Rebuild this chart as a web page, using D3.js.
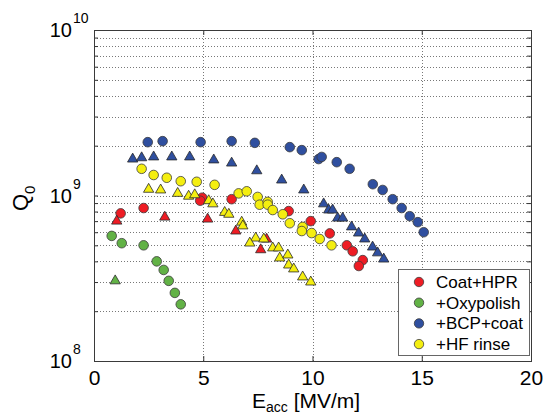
<!DOCTYPE html>
<html>
<head>
<meta charset="utf-8">
<script src="https://cdn.jsdelivr.net/npm/d3@7"></script>
<style>
body { margin: 0; background: #fff; }
svg { display: block; font-family: "Liberation Sans", Arial, sans-serif; }
</style>
</head>
<body>
<svg class="q-chart"></svg>
<script>
// [Eacc MV/m, Q0]
var coatHprCircles = [[1.22,7.8e8],[2.27,8.4e8],[4.95,9.7e8],[4.86,9.3e8],[6.30,9.5e8],[8.91,8.05e8],[9.92,7.0e8],[10.79,5.9e8],[11.57,5.0e8],[11.84,4.6e8],[12.30,4.07e8],[12.12,3.75e8]];
var coatHprTriangles = [[1.04,7.0e8],[3.24,7.4e8],[5.20,7.2e8],[6.49,6.1e8],[7.90,5.45e8],[7.63,4.7e8]];

var oxyCircles = [[0.81,5.7e8],[1.27,5.15e8],[2.27,5.0e8],[2.87,4.0e8],[3.19,3.55e8],[3.42,3.05e8],[3.70,2.58e8],[3.97,2.2e8]];
var oxyTriangles = [[0.97,3.05e8]];

var bcpCircles = [[2.46,2.10e9],[3.14,2.13e9],[4.88,2.10e9],[6.30,2.13e9],[7.36,2.08e9],[8.96,1.96e9],[9.51,1.88e9],[10.28,1.66e9],[10.42,1.71e9],[11.11,1.59e9],[11.70,1.45e9],[12.76,1.17e9],[13.21,1.08e9],[13.67,9.5e8],[14.08,8.4e8],[14.45,7.5e8],[14.82,6.9e8],[15.09,6.0e8]];
var bcpTriangles = [[1.77,1.66e9],[2.18,1.69e9],[2.73,1.71e9],[3.56,1.71e9],[4.38,1.71e9],[5.48,1.64e9],[6.30,1.57e9],[7.45,1.41e9],[8.59,1.24e9],[9.60,1.08e9],[10.51,8.9e8],[10.74,8.17e8],[10.92,8.17e8],[11.15,7.3e8],[11.38,7.3e8],[11.79,6.46e8],[12.11,5.93e8],[12.39,5.46e8],[12.75,4.88e8],[12.98,4.5e8],[13.26,4.13e8]];

var hfCircles = [[2.18,1.45e9],[2.73,1.33e9],[3.33,1.28e9],[3.97,1.22e9],[4.70,1.21e9],[5.52,1.16e9],[6.62,1.03e9],[6.99,1.06e9],[7.49,9.8e8],[7.58,8.8e8],[7.95,9.15e8],[7.95,8.8e8],[8.18,8.17e8],[8.64,7.7e8],[8.96,6.8e8],[9.55,6.46e8],[9.51,6.1e8],[9.96,5.93e8],[10.33,5.46e8],[10.87,5.0e8]];
var hfTriangles = [[2.50,1.09e9],[3.05,1.08e9],[3.83,1.03e9],[4.33,9.9e8],[4.61,1.01e9],[5.25,9.3e8],[5.44,8.9e8],[5.98,7.9e8],[6.17,7.7e8],[6.76,6.9e8],[6.81,6.55e8],[7.40,5.53e8],[7.13,5.16e8],[7.77,5.46e8],[8.18,4.82e8],[8.45,4.82e8],[8.50,4.19e8],[8.87,4.37e8],[8.91,3.8e8],[9.14,3.6e8],[9.55,3.22e8],[9.92,3.0e8]];

var legendLabels = ["Coat+HPR", "+Oxypolish", "+BCP+coat", "+HF rinse"];
var seriesColors = ["#ee1c24", "#62b246", "#2f4f9f", "#f4ee10"];
var xTicks = [0, 5, 10, 15, 20];
var yExponents = [8, 9, 10];

function drawChart() {
	var svgWidth = 545, svgHeight = 416;
	var left = 94, right = 531, top = 30, bottom = 361;

	var svg = d3.select(".q-chart")
	.attr("width", svgWidth)
	.attr("height", svgHeight);

	var x = d3.scaleLinear()
	.domain([0, 20])
	.range([left, right]);

	var y = d3.scaleLog()
	.domain([1e8, 1e10])
	.range([bottom, top]);

	// minor log values for grid + ticks
	var minorVals = [];
	[1e8, 1e9].forEach(function(dec) {
		for (var k = 2; k <= 9; k++) minorVals.push(k * dec);
	});
	var gridVals = minorVals.concat([1e9]);

	var grid = svg.append("g")
	.attr("stroke", "#555")
	.attr("stroke-width", 0.8)
	.attr("stroke-dasharray", "1,2");

	grid.selectAll(".hgrid")
	.data(gridVals)
	.enter().append("line")
	.attr("x1", left).attr("x2", right)
	.attr("y1", function(d) { return Math.round(y(d)) + 0.5 })
	.attr("y2", function(d) { return Math.round(y(d)) + 0.5 });

	grid.selectAll(".vgrid")
	.data([5, 10, 15])
	.enter().append("line")
	.attr("y1", top).attr("y2", bottom)
	.attr("x1", function(d) { return Math.round(x(d)) + 0.5 })
	.attr("x2", function(d) { return Math.round(x(d)) + 0.5 });

	// axes with inward ticks
	var allY = minorVals.concat([1e8, 1e9, 1e10]);

	var xAxis = svg.append("g")
	.attr("transform", "translate(0," + bottom + ")")
	.call(d3.axisBottom(x).tickValues(xTicks).tickSize(-5).tickPadding(9).tickFormat(d3.format("d")));
	xAxis.select(".domain").remove();
	xAxis.selectAll("text").attr("font-size", 21).attr("fill", "#000").attr("font-family", "Liberation Sans, Arial");
	xAxis.selectAll("line").attr("stroke", "#333");

	var xTop = svg.append("g")
	.attr("transform", "translate(0," + top + ")")
	.call(d3.axisTop(x).tickValues(xTicks).tickSize(-5).tickFormat(""));
	xTop.select(".domain").remove();
	xTop.selectAll("line").attr("stroke", "#333");

	var yLeft = svg.append("g")
	.attr("transform", "translate(" + left + ",0)")
	.call(d3.axisLeft(y).tickValues(allY).tickSize(-4).tickFormat(""));
	yLeft.select(".domain").remove();
	yLeft.selectAll("line").attr("stroke", "#333");

	var yRight = svg.append("g")
	.attr("transform", "translate(" + right + ",0)")
	.call(d3.axisRight(y).tickValues(allY).tickSize(-4).tickFormat(""));
	yRight.select(".domain").remove();
	yRight.selectAll("line").attr("stroke", "#333");

	// y tick labels 10^n
	svg.selectAll(".ylab")
	.data(yExponents)
	.enter().append("text")
	.attr("class", "ylab")
	.attr("x", 72)
	.attr("y", function(d) { return y(Math.pow(10, d)) + 7 })
	.attr("text-anchor", "end")
	.attr("font-size", 20)
	.attr("fill", "#000")
	.text("10");
	svg.selectAll(".yexp")
	.data(yExponents)
	.enter().append("text")
	.attr("class", "yexp")
	.attr("x", 73)
	.attr("y", function(d) { return y(Math.pow(10, d)) - 7 })
	.attr("font-size", 14)
	.attr("fill", "#000")
	.text(function(d) { return d });

	// frame
	svg.append("rect")
	.attr("x", left + 0.5).attr("y", top + 0.5)
	.attr("width", right - left).attr("height", bottom - top)
	.attr("fill", "none")
	.attr("stroke", "#3a3a3a")
	.attr("stroke-width", 1);

	// markers
	var circleGroups = [coatHprCircles, oxyCircles, bcpCircles, hfCircles];
	var triGroups = [coatHprTriangles, oxyTriangles, bcpTriangles, hfTriangles];
	var tri = d3.symbol().type(d3.symbolTriangle).size(46);

	for (var s = 0; s < 4; s++) {
		svg.append("g").selectAll("circle")
		.data(circleGroups[s])
		.enter().append("circle")
		.attr("cx", function(d) { return x(d[0]) })
		.attr("cy", function(d) { return y(d[1]) })
		.attr("r", 4.8)
		.attr("fill", seriesColors[s])
		.attr("stroke", "#3c3c3c")
		.attr("stroke-width", 0.8);

		svg.append("g").selectAll("path")
		.data(triGroups[s])
		.enter().append("path")
		.attr("d", tri)
		.attr("transform", function(d) { return "translate(" + x(d[0]) + "," + y(d[1]) + ")" })
		.attr("fill", seriesColors[s])
		.attr("stroke", "#2a2a2a")
		.attr("stroke-width", 0.8);
	}

	// legend
	var lg = svg.append("g");
	lg.append("rect")
	.attr("x", 398.5).attr("y", 269.5)
	.attr("width", 131).attr("height", 86)
	.attr("fill", "#fff")
	.attr("stroke", "#666")
	.attr("stroke-width", 1);

	var rows = lg.selectAll(".row")
	.data(legendLabels)
	.enter().append("g")
	.attr("transform", function(d, i) { return "translate(419," + (282 + i * 20.7) + ")" });
	rows.append("circle")
	.attr("r", 4.7)
	.attr("fill", function(d, i) { return seriesColors[i] })
	.attr("stroke", "#3c3c3c")
	.attr("stroke-width", 0.8);
	rows.append("text")
	.attr("x", 17)
	.attr("y", 6)
	.attr("font-size", 17)
	.attr("fill", "#000")
	.text(function(d) { return d });

	// axis titles
	var xt = svg.append("text")
	.attr("x", 252)
	.attr("y", 408)
	.attr("font-size", 21)
	.attr("fill", "#000");
	xt.append("tspan").text("E");
	xt.append("tspan").attr("font-size", 14).attr("dy", 4).text("acc");
	xt.append("tspan").attr("dy", -4).text(" [MV/m]");

	var yt = svg.append("text")
	.attr("transform", "translate(28,211) rotate(-90)")
	.attr("font-size", 22)
	.attr("fill", "#000");
	yt.append("tspan").text("Q");
	yt.append("tspan").attr("font-size", 15).attr("dy", 7).text("0");
}

drawChart();
</script>
</body>
</html>
